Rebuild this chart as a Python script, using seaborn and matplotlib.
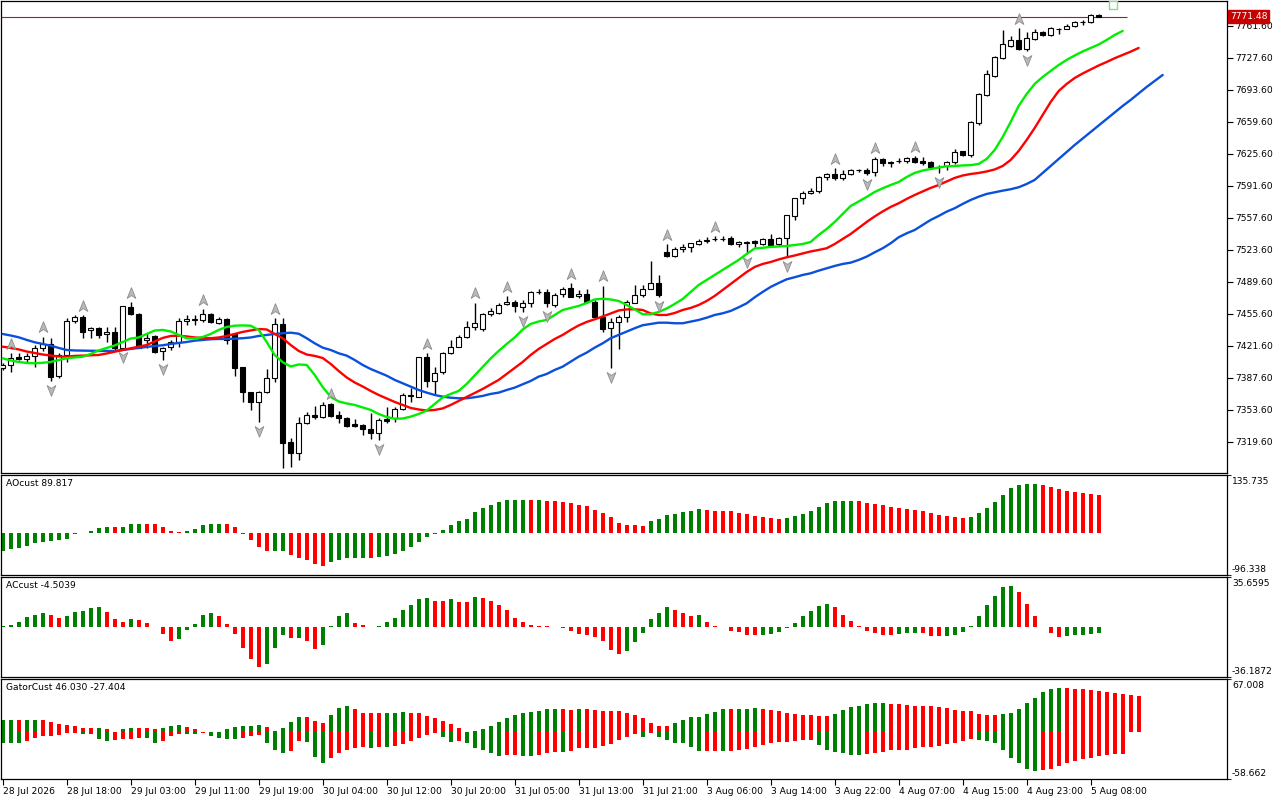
import numpy as np
import matplotlib
matplotlib.use("Agg")
import matplotlib.pyplot as plt
import matplotlib.transforms as mtransforms
from matplotlib.path import Path
import seaborn as sns

# H1 candles, bar 0 = 28 Jul 2026 10:00
opens = [7397.8, 7401.4, 7410.2, 7407.8, 7411.3, 7419.1, 7424.1, 7390.1, 7412.0, 7448.1,
         7452.4, 7438.6, 7440.4, 7434.0, 7436.1, 7419.8, 7462.7, 7455.2, 7428.0, 7432.2,
         7416.3, 7420.9, 7426.2, 7448.1, 7449.6, 7449.6, 7455.2, 7446.4, 7449.9, 7434.0,
         7398.9, 7372.3, 7361.7, 7373.1, 7387.2, 7444.6, 7319.2, 7307.5, 7339.4, 7348.3,
         7345.8, 7359.6, 7348.3, 7345.4, 7338.3, 7337.6, 7333.4, 7328.8, 7343.7, 7345.5,
         7354.3, 7368.5, 7367.8, 7409.6, 7384.8, 7394.3, 7413.8, 7420.9, 7430.8, 7442.2,
         7439.3, 7455.3, 7457.0, 7465.9, 7468.7, 7462.7, 7467.0, 7479.0, 7479.0, 7465.2,
         7476.9, 7482.9, 7474.7, 7476.9, 7468.4, 7452.8, 7440.4, 7446.8, 7452.8, 7467.7,
         7476.2, 7482.5, 7488.2, 7521.9, 7517.6, 7524.3, 7526.5, 7530.0, 7533.5, 7535.3,
         7535.3, 7536.7, 7529.6, 7531.1, 7532.8, 7529.6, 7535.6, 7529.6, 7535.9, 7559.7,
         7578.5, 7583.8, 7586.6, 7600.8, 7604.3, 7600.4, 7604.3, 7608.6, 7608.6, 7606.4,
         7620.2, 7615.6, 7618.1, 7618.5, 7621.7, 7617.8, 7617.4, 7611.4, 7613.2, 7616.7,
         7628.8, 7624.8, 7658.9, 7688.3, 7708.4, 7727.9, 7740.7, 7746.7, 7736.8, 7747.8,
         7755.6, 7752.0, 7758.0, 7758.7, 7761.6, 7765.5, 7765.8, 7773.3]
highs = [7403.2, 7413.8, 7413.8, 7413.8, 7422.6, 7431.5, 7429.7, 7413.8, 7451.0, 7454.5,
         7454.5, 7442.1, 7442.1, 7442.1, 7442.1, 7464.4, 7468.0, 7456.3, 7435.0, 7433.3,
         7420.9, 7427.9, 7451.0, 7454.5, 7454.5, 7460.9, 7456.3, 7452.0, 7451.0, 7435.0,
         7399.6, 7373.1, 7373.8, 7396.8, 7451.0, 7451.0, 7323.5, 7346.5, 7351.8, 7358.2,
         7361.7, 7360.6, 7352.5, 7346.5, 7344.0, 7338.3, 7350.0, 7345.4, 7357.1, 7357.1,
         7372.0, 7376.6, 7410.3, 7413.8, 7399.7, 7415.6, 7428.0, 7433.3, 7448.5, 7467.7,
         7456.3, 7461.6, 7467.0, 7474.7, 7470.5, 7470.5, 7480.1, 7481.8, 7481.8, 7477.6,
         7484.7, 7488.2, 7481.1, 7481.8, 7470.5, 7485.4, 7451.0, 7454.6, 7470.5, 7486.4,
         7486.4, 7511.9, 7497.1, 7530.0, 7526.5, 7530.0, 7531.4, 7535.0, 7537.1, 7538.5,
         7538.9, 7538.5, 7533.5, 7533.5, 7534.2, 7536.7, 7540.6, 7537.0, 7560.7, 7579.2,
         7586.6, 7589.1, 7602.2, 7605.7, 7610.3, 7608.6, 7609.6, 7609.6, 7610.7, 7622.0,
         7621.7, 7618.5, 7620.9, 7622.7, 7623.4, 7622.7, 7618.5, 7613.9, 7618.5, 7630.9,
         7629.1, 7661.0, 7690.7, 7714.8, 7729.7, 7757.3, 7751.3, 7759.1, 7754.8, 7758.4,
         7756.6, 7760.2, 7759.4, 7763.7, 7766.9, 7767.9, 7774.3, 7774.3]
lows = [7396.1, 7393.6, 7406.7, 7404.2, 7399.6, 7416.3, 7384.4, 7387.9, 7404.9, 7445.7,
        7430.4, 7429.7, 7429.7, 7426.2, 7417.3, 7419.1, 7454.5, 7419.1, 7419.1, 7413.8,
        7406.7, 7417.3, 7420.9, 7443.9, 7443.9, 7447.4, 7445.7, 7444.6, 7423.4, 7390.1,
        7362.4, 7353.6, 7341.2, 7371.3, 7383.7, 7292.3, 7293.4, 7300.4, 7338.3, 7343.7,
        7344.7, 7346.5, 7339.4, 7335.9, 7335.9, 7327.0, 7322.8, 7321.7, 7340.1, 7341.2,
        7353.6, 7362.5, 7367.1, 7378.4, 7369.5, 7391.9, 7413.1, 7420.2, 7430.1, 7438.6,
        7437.9, 7453.5, 7455.6, 7464.8, 7458.1, 7458.1, 7462.7, 7476.9, 7462.7, 7462.7,
        7473.3, 7473.3, 7472.3, 7467.0, 7451.0, 7436.8, 7397.9, 7418.4, 7447.5, 7467.0,
        7474.0, 7481.8, 7473.3, 7516.5, 7516.5, 7521.9, 7521.9, 7529.3, 7531.4, 7532.8,
        7532.8, 7528.6, 7527.2, 7520.8, 7527.1, 7528.5, 7528.2, 7528.2, 7516.5, 7555.4,
        7572.4, 7582.7, 7583.8, 7597.9, 7597.9, 7597.9, 7603.2, 7606.8, 7602.9, 7602.5,
        7613.2, 7612.1, 7615.6, 7616.3, 7615.6, 7613.9, 7610.3, 7605.0, 7608.6, 7614.9,
        7623.8, 7622.7, 7656.0, 7687.2, 7707.0, 7726.5, 7739.6, 7736.1, 7735.4, 7746.7,
        7750.9, 7750.9, 7752.7, 7758.0, 7760.9, 7762.6, 7765.1, 7771.0]
closes = [7401.4, 7409.2, 7407.8, 7411.0, 7419.8, 7423.4, 7389.0, 7412.0, 7448.1, 7452.0,
          7436.8, 7440.4, 7433.3, 7436.1, 7419.1, 7463.7, 7455.2, 7419.8, 7430.4, 7415.6,
          7419.1, 7426.2, 7448.1, 7449.9, 7450.3, 7455.2, 7446.7, 7449.9, 7428.0, 7398.6,
          7372.3, 7361.7, 7373.1, 7387.2, 7444.6, 7318.2, 7307.5, 7339.4, 7348.3, 7346.1,
          7358.9, 7347.6, 7344.7, 7336.9, 7336.9, 7333.0, 7328.8, 7343.0, 7342.3, 7354.3,
          7369.5, 7369.9, 7409.6, 7384.8, 7393.3, 7413.8, 7420.9, 7430.8, 7442.2, 7445.7,
          7455.3, 7458.8, 7464.8, 7468.4, 7463.8, 7467.0, 7479.0, 7479.3, 7467.0, 7476.2,
          7482.2, 7474.0, 7476.5, 7468.4, 7452.8, 7439.7, 7446.8, 7452.1, 7468.7, 7476.2,
          7482.5, 7488.2, 7475.8, 7517.6, 7524.7, 7527.2, 7530.7, 7533.2, 7533.9, 7535.7,
          7535.4, 7529.6, 7532.1, 7531.8, 7530.6, 7534.9, 7528.9, 7535.9, 7560.4, 7578.5,
          7583.8, 7585.9, 7600.8, 7603.9, 7600.4, 7604.3, 7608.6, 7608.8, 7605.7, 7620.2,
          7615.6, 7617.4, 7618.5, 7621.3, 7617.4, 7616.3, 7611.4, 7612.1, 7616.7, 7627.3,
          7624.1, 7659.2, 7688.9, 7710.6, 7728.3, 7742.4, 7746.7, 7736.8, 7748.5, 7755.6,
          7752.0, 7759.1, 7758.4, 7761.6, 7766.2, 7766.2, 7773.3, 7771.48]
last_price = 7771.48

fractal_up = [1, 5, 10, 16, 25, 34, 41, 53, 59, 63, 71, 75, 83, 89, 104, 109, 114, 127]
fractal_down = [6, 15, 20, 32, 47, 65, 68, 76, 82, 93, 98, 108, 117, 128]

# Alligator lines (already shifted forward: jaw 8, teeth 5, lips 3 bars)
jaw = [7434.3, 7432.7, 7430.8, 7428.0, 7425.5, 7423.7, 7421.9, 7419.5, 7417.3, 7416.8,
       7416.6, 7416.3, 7416.3, 7416.3, 7416.3, 7417.3, 7418.4, 7419.5, 7420.5, 7421.6,
       7422.3, 7423.7, 7424.8, 7425.8, 7427.2, 7428.0, 7428.7, 7429.0, 7429.0, 7429.3,
       7429.8, 7430.6, 7432.2, 7433.3, 7434.3, 7435.1, 7435.7, 7434.6, 7429.8, 7424.4,
       7419.8, 7417.3, 7413.8, 7411.3, 7406.7, 7401.4, 7397.1, 7393.6, 7390.0, 7385.5,
       7381.9, 7378.3, 7374.8, 7372.0, 7369.5, 7367.7, 7366.6, 7366.0, 7366.0, 7367.1,
       7368.5, 7370.6, 7372.0, 7374.8, 7377.3, 7380.9, 7384.4, 7389.0, 7391.8, 7396.1,
       7399.6, 7404.9, 7410.2, 7414.5, 7419.8, 7424.4, 7429.8, 7433.3, 7436.8, 7440.4,
       7443.6, 7445.0, 7446.3, 7446.3, 7445.7, 7445.7, 7447.4, 7449.2, 7451.6, 7454.5,
       7456.3, 7458.8, 7462.7, 7466.9, 7473.3, 7479.0, 7484.3, 7488.5, 7492.4, 7494.6,
       7497.0, 7498.8, 7501.6, 7504.1, 7506.6, 7508.7, 7510.1, 7513.0, 7516.5, 7521.1,
       7525.4, 7530.7, 7537.1, 7541.3, 7544.8, 7550.1, 7555.5, 7559.7, 7564.3, 7567.9,
       7572.5, 7576.7, 7580.2, 7583.1, 7584.9, 7586.6, 7588.1, 7590.2, 7593.7, 7598.0,
       7605.4, 7612.8, 7620.3, 7627.7, 7635.1, 7642.0, 7649.0, 7655.9, 7662.8, 7669.7,
       7676.6, 7683.0, 7689.9, 7696.8, 7703.1, 7709.5]
teeth = [7420.8, 7419.5, 7417.9, 7415.7, 7414.1, 7412.5, 7411.5, 7410.4, 7410.2, 7411.0,
         7411.3, 7411.5, 7412.0, 7413.6, 7415.5, 7417.3, 7419.1, 7421.0, 7422.6, 7426.4,
         7430.1, 7432.2, 7432.5, 7431.7, 7430.6, 7430.1, 7429.8, 7430.6, 7432.2, 7434.3,
         7436.5, 7438.0, 7439.6, 7439.1, 7434.3, 7429.8, 7422.6, 7416.3, 7412.5, 7411.0,
         7408.8, 7402.5, 7395.0, 7388.1, 7382.8, 7378.5, 7373.8, 7369.5, 7365.8, 7362.1,
         7358.9, 7355.7, 7354.1, 7353.0, 7353.6, 7355.2, 7358.9, 7363.1, 7367.4, 7371.6,
         7375.9, 7380.7, 7385.5, 7391.8, 7398.2, 7404.6, 7412.0, 7418.4, 7423.7, 7429.0,
         7433.3, 7438.6, 7443.4, 7447.1, 7449.9, 7452.9, 7456.1, 7459.3, 7460.4, 7460.6,
         7459.8, 7456.1, 7454.5, 7454.5, 7456.6, 7459.8, 7462.0, 7465.1, 7469.4, 7474.7,
         7481.1, 7487.5, 7493.8, 7500.2, 7505.5, 7508.7, 7510.8, 7513.5, 7515.8, 7517.7,
         7519.9, 7522.0, 7523.6, 7525.4, 7529.9, 7535.3, 7540.6, 7546.9, 7553.3, 7559.2,
         7564.5, 7569.3, 7573.2, 7577.8, 7582.0, 7585.7, 7589.5, 7592.6, 7596.4, 7600.1,
         7602.7, 7604.3, 7605.4, 7607.0, 7609.1, 7612.8, 7619.2, 7628.8, 7640.5, 7653.2,
         7667.0, 7680.8, 7692.5, 7700.0, 7706.3, 7711.1, 7715.4, 7719.6, 7723.3, 7727.3,
         7730.8, 7734.3, 7738.2]
lips = [7408.5, 7406.2, 7404.6, 7403.5, 7403.2, 7403.7, 7404.6, 7406.7, 7408.5, 7409.4,
        7410.2, 7413.1, 7416.8, 7419.5, 7422.1, 7425.8, 7429.5, 7430.6, 7434.3, 7438.0,
        7438.6, 7437.0, 7433.3, 7429.8, 7429.5, 7431.1, 7434.3, 7438.6, 7441.8, 7443.1,
        7443.4, 7443.1, 7438.6, 7425.8, 7412.0, 7404.3, 7399.8, 7401.9, 7401.4, 7390.8,
        7378.0, 7367.4, 7362.6, 7360.5, 7358.9, 7356.2, 7353.6, 7349.3, 7346.1, 7344.3,
        7344.5, 7346.5, 7349.3, 7353.0, 7360.0, 7366.9, 7370.6, 7373.8, 7381.2, 7390.2,
        7399.3, 7408.3, 7416.3, 7423.7, 7430.6, 7439.1, 7445.0, 7447.6, 7449.2, 7454.5,
        7459.8, 7462.0, 7464.1, 7467.3, 7471.0, 7471.8, 7471.0, 7469.4, 7465.1, 7460.4,
        7455.3, 7455.3, 7457.7, 7461.4, 7466.2, 7471.5, 7479.0, 7486.4, 7491.7, 7497.0,
        7502.3, 7507.6, 7513.0, 7519.3, 7525.2, 7525.9, 7526.8, 7527.3, 7527.8, 7528.9,
        7529.9, 7532.1, 7539.5, 7545.9, 7553.3, 7561.8, 7570.3, 7575.1, 7579.9, 7585.2,
        7589.1, 7592.6, 7595.8, 7601.1, 7605.4, 7608.0, 7609.6, 7611.2, 7612.5, 7612.8,
        7613.4, 7613.7, 7615.0, 7620.3, 7629.8, 7643.6, 7659.6, 7676.6, 7689.3, 7700.0,
        7707.4, 7713.8, 7720.1, 7725.5, 7730.2, 7734.5, 7738.2, 7741.9, 7746.7, 7752.0,
        7756.3]

ao = [-41.0, -37.0, -33.0, -29.0, -23.0, -19.0, -18.0, -14.0, -12.0, -2.0,
      0.8, 5.4, 13.0, 16.0, 15.6, 16.2, 22.0, 22.4, 22.1, 21.0,
      16.0, 5.4, 2.3, 6.2, 10.8, 20.0, 22.4, 22.6, 20.9, 14.0,
      -0.8, -16.0, -32.5, -41.0, -40.6, -40.2, -50.0, -56.5, -60.4, -71.2,
      -76.6, -66.5, -60.4, -58.0, -56.5, -56.2, -58.0, -55.0, -53.4, -48.0,
      -39.5, -30.2, -18.6, -8.5, -1.5, 7.0, 19.4, 27.9, 33.3, 48.8,
      58.0, 65.8, 72.0, 76.6, 76.8, 77.0, 76.7, 77.1, 75.1, 74.3,
      72.0, 69.7, 66.6, 62.7, 55.0, 48.0, 37.2, 25.5, 18.8, 18.6,
      18.4, 27.9, 32.5, 41.8, 44.9, 48.8, 51.1, 55.7, 53.4, 53.2,
      53.0, 51.9, 47.2, 44.9, 39.5, 37.9, 34.8, 34.6, 34.9, 39.5,
      44.9, 51.1, 60.4, 70.4, 74.3, 74.5, 74.7, 74.4, 69.7, 68.1,
      65.8, 60.4, 58.1, 55.7, 53.4, 52.6, 47.2, 42.6, 41.0, 37.9,
      35.6, 37.9, 47.2, 58.1, 72.0, 88.2, 104.5, 111.5, 113.8, 114.0,
      111.5, 106.8, 102.2, 99.1, 95.2, 93.7, 90.6, 89.817]
ac = [0.5, 1.0, 3.6, 6.7, 8.4, 9.8, 8.6, 6.0, 7.4, 10.8,
      10.9, 13.2, 14.4, 10.8, 5.7, 3.4, 5.7, 5.0, 2.6, -0.1,
      -5.5, -10.5, -9.1, -2.6, 2.2, 8.6, 10.1, 7.9, 2.2, -5.5,
      -15.3, -23.2, -29.2, -27.1, -15.6, -6.2, -8.4, -8.3, -10.5, -16.3,
      -13.4, 0.5, 7.9, 10.1, 2.9, 1.0, 0.0, 0.5, 3.6, 6.5,
      12.2, 15.3, 19.6, 20.8, 18.7, 18.2, 19.6, 18.0, 17.9, 21.6,
      20.8, 18.7, 15.8, 12.2, 6.5, 3.6, 1.4, 0.7, 0.5, -0.5,
      -1.2, -3.4, -5.5, -6.2, -7.7, -10.5, -17.0, -19.8, -17.7, -11.3,
      -4.8, 5.7, 10.1, 13.9, 12.2, 10.1, 7.9, 8.6, 3.6, 0.7,
      -0.2, -2.9, -3.6, -6.2, -6.3, -6.1, -5.0, -3.6, -1.0, 2.9,
      7.9, 11.5, 15.1, 16.5, 13.9, 8.6, 4.3, 0.7, -2.9, -4.3,
      -6.2, -6.3, -5.5, -4.8, -4.3, -4.8, -6.5, -6.9, -6.5, -6.2,
      -4.1, 0.2, 7.9, 15.8, 22.3, 28.7, 29.5, 25.1, 16.5, 7.9,
      0.0, -4.8, -7.7, -6.9, -6.2, -5.7, -5.0, -4.5039]
gator_up = [15.3, 15.4, 15.2, 15.3, 15.4, 15.2, 12.8, 10.2, 8.9, 7.7,
            5.1, 5.0, 5.2, 3.8, 0.2, 3.9, 5.1, 5.0, 4.9, 3.8,
            5.1, 7.7, 8.9, 6.4, 3.8, 0.3, 0.1, 0.05, 3.8, 6.4,
            7.7, 7.8, 8.9, 6.4, 1.3, 5.1, 12.8, 19.1, 19.0, 14.0,
            11.5, 21.7, 30.6, 33.2, 29.3, 24.7, 24.2, 24.1, 24.3, 24.4,
            25.5, 24.2, 24.1, 20.4, 17.9, 14.0, 10.2, 5.1, 0.6, 1.3,
            3.8, 7.7, 12.8, 17.9, 21.7, 24.2, 25.5, 26.8, 29.3, 29.4,
            29.2, 28.1, 29.3, 29.2, 28.1, 26.8, 26.7, 26.6, 24.2, 21.7,
            17.9, 11.5, 7.7, 7.6, 11.5, 15.3, 19.1, 19.2, 23.0, 25.5,
            29.3, 29.2, 29.3, 29.4, 30.6, 29.3, 28.1, 26.8, 24.2, 23.0,
            21.7, 21.6, 20.4, 20.3, 23.0, 28.1, 31.9, 33.2, 35.7, 37.0,
            37.1, 35.7, 35.6, 34.4, 33.2, 33.1, 33.0, 31.9, 30.6, 28.1,
            26.8, 26.7, 23.0, 21.7, 21.6, 23.0, 24.2, 29.3, 37.0, 43.4,
            51.0, 54.8, 56.1, 56.0, 54.8, 54.7, 53.6, 52.3, 51.0, 49.7,
            48.5, 47.2, 46.03]
gator_down = [-12.8, -13.6, -13.7, -11.1, -7.7, -4.7, -4.3, -3.4, -0.9, -0.8,
              -2.6, -2.5, -8.5, -11.1, -10.2, -8.9, -8.8, -6.8, -7.7, -12.8,
              -11.5, -4.7, -1.5, -1.7, -1.8, -0.9, -4.7, -7.2, -8.5, -8.6,
              -6.8, -5.1, -3.4, -13.6, -21.7, -26.4, -23.0, -11.5, -11.6, -30.6,
              -39.1, -31.9, -25.5, -21.7, -19.1, -17.9, -19.1, -17.9, -18.7, -17.4,
              -14.9, -11.1, -7.2, -3.4, -0.9, -6.0, -12.3, -11.1, -13.6, -20.0,
              -22.5, -26.4, -30.2, -28.9, -28.8, -30.2, -30.3, -28.9, -26.4, -25.1,
              -25.2, -23.8, -20.0, -19.9, -19.8, -17.4, -14.9, -9.8, -6.0, -2.1,
              -6.0, -0.9, -6.0, -9.8, -13.6, -13.7, -18.7, -23.8, -23.7, -23.6,
              -23.8, -23.7, -22.5, -21.3, -18.7, -16.2, -13.6, -12.3, -12.2, -11.1,
              -9.8, -9.7, -16.2, -22.5, -25.1, -26.4, -28.9, -29.0, -27.6, -26.4,
              -25.1, -22.5, -22.4, -22.3, -20.0, -18.7, -18.6, -17.4, -14.9, -13.6,
              -11.1, -8.5, -9.8, -11.1, -13.6, -22.5, -32.7, -39.1, -45.5, -48.0,
              -47.9, -45.5, -42.9, -39.1, -36.6, -34.0, -32.7, -30.2, -28.9, -27.6,
              -27.404]

price_ticks = [7319.60, 7353.60, 7387.60, 7421.60, 7455.60, 7489.60, 7523.60,
               7557.60, 7591.60, 7625.60, 7659.60, 7693.60, 7727.60, 7761.60]
tick_bars = [0, 8, 16, 24, 32, 40, 48, 56, 64, 72, 80, 88, 96, 104, 112, 120, 128, 136]
tick_labels = ["28 Jul 2026", "28 Jul 18:00", "29 Jul 03:00", "29 Jul 11:00",
               "29 Jul 19:00", "30 Jul 04:00", "30 Jul 12:00", "30 Jul 20:00",
               "31 Jul 05:00", "31 Jul 13:00", "31 Jul 21:00", "3 Aug 06:00",
               "3 Aug 14:00", "3 Aug 22:00", "4 Aug 07:00", "4 Aug 15:00",
               "4 Aug 23:00", "5 Aug 08:00"]

GREEN = "#008000"
RED = "#ff0000"

sns.set_theme(style="white")
plt.rcParams["font.family"] = ["DejaVu Sans"]
plt.rcParams["font.size"] = 6.6

W, H = 1280, 800
fig = plt.figure(figsize=(12.8, 8), dpi=100)
fig.patch.set_facecolor("white")
ax = fig.add_axes([1 / W, 1 - 473 / H, 1226 / W, 472 / H])
ax_ao = fig.add_axes([1 / W, 1 - 575 / H, 1226 / W, 100 / H])
ax_ac = fig.add_axes([1 / W, 1 - 677 / H, 1226 / W, 100 / H])
ax_gt = fig.add_axes([1 / W, 1 - 779 / H, 1226 / W, 100 / H])
XLIM = (-0.21, 153.04)

# notched arrowheads like the terminal's fractal glyphs
ARROW_UP = Path([(0, 1), (0.75, -0.85), (0, -0.35), (-0.75, -0.85), (0, 1)],
                [Path.MOVETO, Path.LINETO, Path.LINETO, Path.LINETO, Path.CLOSEPOLY])
ARROW_DN = Path([(0, -1), (0.75, 0.85), (0, 0.35), (-0.75, 0.85), (0, -1)],
                [Path.MOVETO, Path.LINETO, Path.LINETO, Path.LINETO, Path.CLOSEPOLY])


def frame(a):
    a.set_facecolor("white")
    for s in a.spines.values():
        s.set_visible(True)
        s.set_color("black")
        s.set_linewidth(0.9)
    a.set_xlim(*XLIM)
    a.grid(False)


def rising_colors(vals, by_abs=False):
    v = np.abs(vals) if by_abs else np.asarray(vals)
    out = [GREEN]
    for i in range(1, len(v)):
        out.append(GREEN if v[i] > v[i - 1] else RED)
    return out


# ---- price panel ----
frame(ax)
o = np.array(opens); h = np.array(highs); l = np.array(lows); c = np.array(closes)
idx = np.arange(len(o))
ax.vlines(idx, l, h, color="black", lw=1.0, zorder=2)
body_lo = np.minimum(o, c)
body_h = np.maximum(np.abs(c - o), 0.4)
ax.bar(idx, body_h, bottom=body_lo, width=0.55,
       color=np.where(c >= o, "white", "black"), edgecolor="black",
       linewidth=0.8, zorder=3)

sns.lineplot(x=np.arange(len(jaw)), y=jaw, color="#0a50dc", lw=1.7, ax=ax, zorder=4)
sns.lineplot(x=np.arange(len(teeth)), y=teeth, color="#ff0000", lw=1.7, ax=ax, zorder=4)
sns.lineplot(x=np.arange(len(lips)), y=lips, color="#00ee00", lw=1.7, ax=ax, zorder=4)

sns.scatterplot(x=fractal_up, y=[highs[i] + 10.0 for i in fractal_up], marker=ARROW_UP,
                s=70, color="#b9b9b9", edgecolor="#8c8c8c", linewidth=0.6, ax=ax, zorder=5)
sns.scatterplot(x=fractal_down, y=[lows[i] - 9.5 for i in fractal_down], marker=ARROW_DN,
                s=70, color="#b9b9b9", edgecolor="#8c8c8c", linewidth=0.6, ax=ax, zorder=5)

ax.hlines(last_price, XLIM[0], 140.5, color="#a02020", lw=0.8, zorder=2)
ax.scatter([138.8], [7784.0], marker="s", s=38, facecolor="white",
           edgecolor="#8fd88f", linewidth=1.0, zorder=6)

ax.set_ylim(7286.6, 7788.1)
ax.set_yticks(price_ticks)
ax.set_yticklabels([f"{p:.2f}" for p in price_ticks])
ax.yaxis.tick_right()
ax.tick_params(axis="y", direction="out", length=4, width=0.8, pad=2,
               colors="black", labelsize=6.6, right=True, left=False)
ax.set_xticks([])
ax.set_xlabel("")
ax.set_ylabel("")
trans = mtransforms.blended_transform_factory(ax.transAxes, ax.transData)
ax.text(1.0025, last_price, f"{last_price:.2f}", transform=trans, ha="left",
        va="center", color="white", fontsize=6.6, zorder=10,
        bbox=dict(boxstyle="square,pad=0.2", fc="#c80000", ec="#c80000"))


# ---- indicator panels ----
def indicator(a, title, lo, hi, top_lbl, bot_lbl):
    frame(a)
    a.set_ylim(lo, hi)
    a.set_yticks([lo, hi])
    a.set_yticklabels(["", ""])
    a.yaxis.tick_right()
    a.tick_params(axis="y", direction="out", length=3, width=0.8, right=True, left=False)
    a.set_xticks([])
    a.text(0.004, 0.92, title, transform=a.transAxes, ha="left", va="center",
           fontsize=6.6, color="black")
    a.text(1.004, 0.985, top_lbl, transform=a.transAxes, ha="left", va="top",
           fontsize=6.6, color="black")
    a.text(1.004, 0.015, bot_lbl, transform=a.transAxes, ha="left", va="bottom",
           fontsize=6.6, color="black")


indicator(ax_ao, "AOcust 89.817", -96.338, 135.735, "135.735", "-96.338")
ax_ao.bar(np.arange(len(ao)), ao, width=0.5, color=rising_colors(ao), linewidth=0)

indicator(ax_ac, "ACcust -4.5039", -36.1872, 35.6595, "35.6595", "-36.1872")
ax_ac.bar(np.arange(len(ac)), ac, width=0.5, color=rising_colors(ac), linewidth=0)

indicator(ax_gt, "GatorCust 46.030 -27.404", -58.662, 67.008, "67.008", "-58.662")
ax_gt.bar(np.arange(len(gator_up)), gator_up, width=0.5,
          color=rising_colors(gator_up), linewidth=0)
ax_gt.bar(np.arange(len(gator_down)), gator_down, width=0.5,
          color=rising_colors(gator_down, by_abs=True), linewidth=0)

ax_gt.set_xticks(tick_bars)
ax_gt.set_xticklabels(tick_labels)
for lab in ax_gt.get_xticklabels():
    lab.set_ha("left")
ax_gt.tick_params(axis="x", direction="out", length=4, width=0.8, pad=2,
                  colors="black", labelsize=6.6, bottom=True)

fig.savefig("out.png", dpi=100)
